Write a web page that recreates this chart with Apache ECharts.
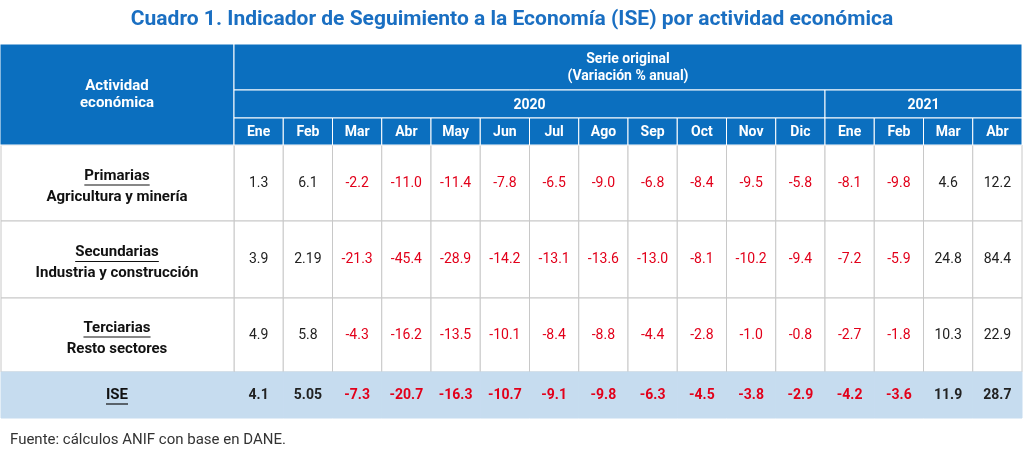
<!DOCTYPE html>
<html>
<head>
<meta charset="utf-8">
<script src="https://cdn.jsdelivr.net/npm/echarts@6/dist/echarts.min.js"></script>
<style>
  html, body { margin: 0; padding: 0; background: #fff; }
  #main { width: 1024px; height: 452px; }
</style>
</head>
<body>
<div id="main"></div>
<script>
// table data
const months = ['Ene', 'Feb', 'Mar', 'Abr', 'May', 'Jun', 'Jul', 'Ago', 'Sep', 'Oct', 'Nov', 'Dic', 'Ene', 'Feb', 'Mar', 'Abr'];
const years = [['2020', 0, 11], ['2021', 12, 15]];
const rowTitles = ['Primarias', 'Secundarias', 'Terciarias', 'ISE'];
const rowSubs = ['Agricultura y minería', 'Industria y construcción', 'Resto sectores', ''];
const primarias = ['1.3', '6.1', '-2.2', '-11.0', '-11.4', '-7.8', '-6.5', '-9.0', '-6.8', '-8.4', '-9.5', '-5.8', '-8.1', '-9.8', '4.6', '12.2'];
const secundarias = ['3.9', '2.19', '-21.3', '-45.4', '-28.9', '-14.2', '-13.1', '-13.6', '-13.0', '-8.1', '-10.2', '-9.4', '-7.2', '-5.9', '24.8', '84.4'];
const terciarias = ['4.9', '5.8', '-4.3', '-16.2', '-13.5', '-10.1', '-8.4', '-8.8', '-4.4', '-2.8', '-1.0', '-0.8', '-2.7', '-1.8', '10.3', '22.9'];
const ise = ['4.1', '5.05', '-7.3', '-20.7', '-16.3', '-10.7', '-9.1', '-9.8', '-6.3', '-4.5', '-3.8', '-2.9', '-4.2', '-3.6', '11.9', '28.7'];

// layout: row edges in table units (y axis)
const rowEdges = [0, 46, 74, 101, 177, 254, 328, 374];
const BLUE = '#0b6fbf';
const RED = '#e2001a';
const FONT = 'Roboto, "Liberation Sans", sans-serif';

const values = [primarias, secundarias, terciarias, ise];
const bodyData = [];
values.forEach((vals, r) => vals.forEach((v, c) => bodyData.push([c, r, v])));

const measure = document.createElement('canvas').getContext('2d');
function textWidth(t, font) { measure.font = font; return measure.measureText(t).width; }

function yOf(api, v) { return api.coord([0, v])[1]; }
function colRange(api, c0, c1) {
  const w = api.size([1, 0])[0];
  return [api.coord([c0, 0])[0] - w / 2, api.coord([c1, 0])[0] + w / 2];
}

const chart = echarts.init(document.getElementById('main'));
chart.setOption({
  animation: false,
  title: [
    { text: 'Cuadro 1. Indicador de Seguimiento a la Economía (ISE) por actividad económica',
      left: 'center', top: 4,
      textStyle: { color: '#1a6fc2', fontSize: 21, fontWeight: 'bold', fontFamily: FONT } },
    { text: 'Fuente: cálculos ANIF con base en DANE.', left: 5, top: 428,
      textStyle: { color: '#333', fontSize: 15, fontWeight: 'normal', fontFamily: FONT } }
  ],
  grid: { left: 234, right: 2, top: 44, bottom: 34 },
  xAxis: { type: 'category', data: months, show: false },
  yAxis: { type: 'value', min: 0, max: 374, inverse: true, show: false },
  series: [
    { // body cells
      type: 'custom', clip: false, data: bodyData,
      renderItem(params, api) {
        const c = api.value(0), r = api.value(1);
        const v = bodyData[params.dataIndex][2];
        const [x0, x1] = colRange(api, c, c);
        const y0 = yOf(api, rowEdges[3 + r]), y1 = yOf(api, rowEdges[4 + r]);
        const last = r === 3;
        return { type: 'group', children: [
          { type: 'rect', shape: { x: x0, y: y0, width: x1 - x0, height: y1 - y0 },
            style: { fill: last ? '#c6dcef' : '#fff', stroke: last ? '#c6dcef' : '#c8c8c8', lineWidth: 1 } },
          { type: 'text', x: (x0 + x1) / 2, y: (y0 + y1) / 2,
            style: { text: v, align: 'center', verticalAlign: 'middle',
              fill: v.startsWith('-') ? RED : '#222', fontSize: 14, fontFamily: FONT,
              fontWeight: last ? 'bold' : 'normal' } }
        ] };
      }
    },
    { // row labels
      type: 'custom', clip: false, data: rowTitles.map((t, i) => [0, i]),
      renderItem(params, api) {
        const r = api.value(1);
        const x1 = params.coordSys.x;
        const y0 = yOf(api, rowEdges[3 + r]), y1 = yOf(api, rowEdges[4 + r]);
        const last = r === 3;
        const cx = x1 / 2, cy = (y0 + y1) / 2;
        const title = rowTitles[r], sub = rowSubs[r];
        const font = 'bold 15px ' + FONT;
        const tw = textWidth(title, font);
        const ty = sub ? cy - 7 : cy;
        const kids = [
          { type: 'rect', shape: { x: 1, y: y0, width: x1 - 1, height: y1 - y0 },
            style: { fill: last ? '#c6dcef' : '#fff', stroke: last ? '#c6dcef' : '#c8c8c8', lineWidth: 1 } },
          { type: 'text', x: cx, y: ty,
            style: { text: title, align: 'center', verticalAlign: 'middle', fill: '#111',
              fontSize: 15, fontWeight: 'bold', fontFamily: FONT } },
          { type: 'line', shape: { x1: cx - tw / 2, y1: ty + 9, x2: cx + tw / 2, y2: ty + 9 },
            style: { stroke: '#111', lineWidth: 1.2 } }
        ];
        if (sub) kids.push({ type: 'text', x: cx, y: cy + 14,
          style: { text: sub, align: 'center', verticalAlign: 'middle', fill: '#111',
            fontSize: 15, fontWeight: 'bold', fontFamily: FONT } });
        return { type: 'group', children: kids };
      }
    },
    { // header
      type: 'custom', clip: false, data: [[0, 0]],
      renderItem(params, api) {
        const gx = params.coordSys.x;
        const txt = (x, y, t, size) => ({ type: 'text', x, y,
          style: { text: t, align: 'center', verticalAlign: 'middle', fill: '#fff',
            fontSize: size || 14, fontWeight: 'bold', fontFamily: FONT, lineHeight: 17 } });
        const cell = (x0, x1, y0, y1) => ({ type: 'rect', shape: { x: x0, y: y0, width: x1 - x0, height: y1 - y0 },
          style: { fill: BLUE, stroke: '#fff', lineWidth: 1 } });
        const kids = [];
        const top = yOf(api, rowEdges[0]), hEnd = yOf(api, rowEdges[3]);
        kids.push(cell(0, gx, top, hEnd), txt(gx / 2, (top + hEnd) / 2, 'Actividad\neconómica', 15));
        const [a0, a1] = colRange(api, 0, months.length - 1);
        const r1 = yOf(api, rowEdges[1]), r2 = yOf(api, rowEdges[2]);
        kids.push(cell(a0, a1, top, r1), txt((a0 + a1) / 2, (top + r1) / 2 + 1, 'Serie original\n(Variación % anual)'));
        years.forEach(([y, s, e]) => {
          const [x0, x1] = colRange(api, s, e);
          kids.push(cell(x0, x1, r1, r2), txt((x0 + x1) / 2, (r1 + r2) / 2 + 1, y));
        });
        months.forEach((m, i) => {
          const [x0, x1] = colRange(api, i, i);
          kids.push(cell(x0, x1, r2, hEnd), txt((x0 + x1) / 2, (r2 + hEnd) / 2 + 1, m));
        });
        return { type: 'group', children: kids };
      }
    }
  ]
});
</script>
</body>
</html>
